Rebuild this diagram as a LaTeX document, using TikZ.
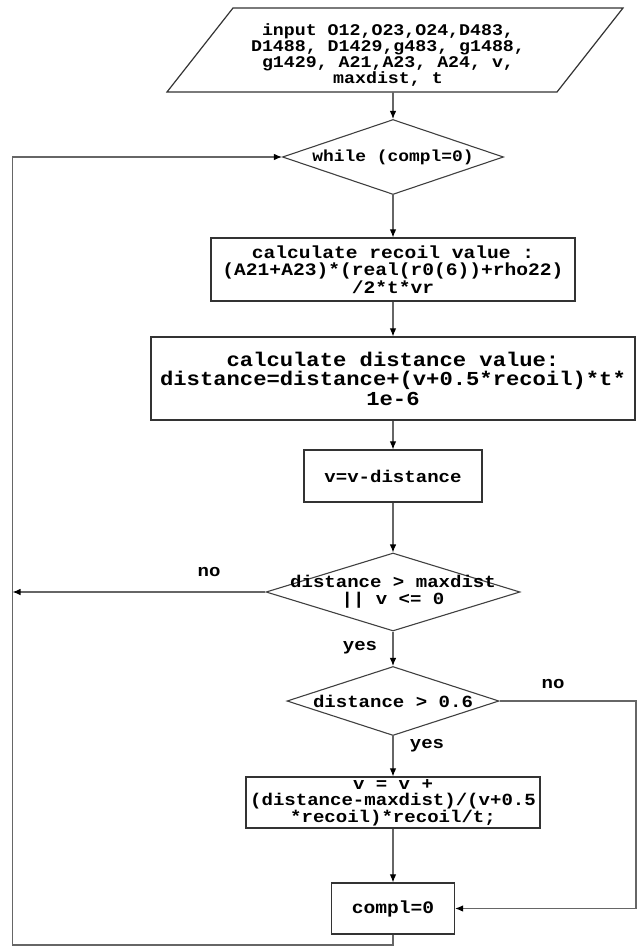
\documentclass[tikz,border=0pt]{standalone}
\usepackage{fontspec}
\newfontfamily\cour{Liberation Mono}[FakeStretch=1.12]
\usetikzlibrary{shapes.geometric,arrows.meta}
\newcommand\csize[2]{\cour\bfseries\fontsize{#1}{#2}\selectfont}
\begin{document}
\begin{tikzpicture}[x=1pt,y=-1pt,
  conn/.style={draw=black!60, line width=1.1pt},
  arr/.style={conn, -{Latex[length=8pt,width=6.5pt,fill=black,color=black]}},
  box/.style={rectangle, draw=black!80, line width=1.2pt, inner sep=0pt,
    align=center, text=black},
  dia/.style={diamond, draw=black!75, line width=1.1pt, inner sep=0pt},
  txt/.style={align=center, inner sep=0pt, text=black, font=\csize{17}{17}},
  lbl/.style={inner sep=0pt, text=black, font=\csize{17}{17}}]
\useasboundingbox (0,0) rectangle (637,947);

% input parallelogram
\draw[draw=black!80, line width=1.2pt] (233,8) -- (623,8) -- (557,92) -- (167,92) -- cycle;
\node[txt, font=\csize{16.3}{15.7}] (in) at (388,55)
  {input O12,O23,O24,D483,\\D1488, D1429,g483, g1488,\\g1429, A21,A23, A24, v,\\maxdist, t};
\coordinate (inb) at (393,92);

% loop test
\node[dia, minimum width=221, minimum height=75,
  label={[txt, font=\csize{16}{16}]center:while (compl=0)}] (wh) at (393,157) {};

% recoil
\node[box, minimum width=364, minimum height=63, font=\csize{17.5}{17.5}] (rec) at (393,269.5)
  {calculate recoil value :\\(A21+A23)*(real(r0(6))+rho22)\\/2*t*vr};

% distance
\node[box, minimum width=484, minimum height=83, font=\csize{19.8}{19.5}] (dist) at (393,378.5)
  {calculate distance value:\\distance=distance+(v+0.5*recoil)*t*\\1e-6};

% velocity update
\node[box, minimum width=178, minimum height=52, font=\csize{17}{17}] (vd) at (393,476)
  {v=v-distance};

% range test
\node[dia, minimum width=254, minimum height=78,
  label={[txt]center:distance > maxdist\\|| v <= 0}] (d2) at (393,592) {};

% threshold test
\node[dia, minimum width=212, minimum height=69,
  label={[txt]center:distance > 0.6}] (d3) at (393,701) {};

% correction
\node[box, minimum width=294, minimum height=51, font=\csize{17}{15.8}] (upd) at (393,802.5)
  {v = v +\\(distance-maxdist)/(v+0.5\\*recoil)*recoil/t;};

% completion flag
\node[box, minimum width=123, minimum height=51, font=\csize{17.5}{17.5}] (cp) at (393,908.5)
  {compl=0};

% branch labels
\node[lbl] (no1) at (209,572) {no};
\node[lbl] (yes1) at (360,648) {yes};
\node[lbl] (no2) at (553,684) {no};
\node[lbl] (yes2) at (427,746) {yes};

\coordinate (lb) at (12.5,945);
\coordinate (rt) at (636,908.5);

% main flow
\draw[arr] (inb) -- (wh.north);
\draw[arr] (wh.south) -- (rec.north);
\draw[arr] (rec.south) -- (dist.north);
\draw[arr] (dist.south) -- (vd.north);
\draw[arr] (vd.south) -- (d2.north);
\draw[arr] (d2.south) -- (d3.north);
\draw[arr] (d3.south) -- (upd.north);
\draw[arr] (upd.south) -- (cp.north);

% branches and loop back
\draw[arr] (d2.west) -- (d2.west -| lb);
\draw[arr] (d3.east) -| (rt) -- (cp.east);
\draw[arr] (cp.south) |- (lb) |- (wh.west);
\end{tikzpicture}
\end{document}
